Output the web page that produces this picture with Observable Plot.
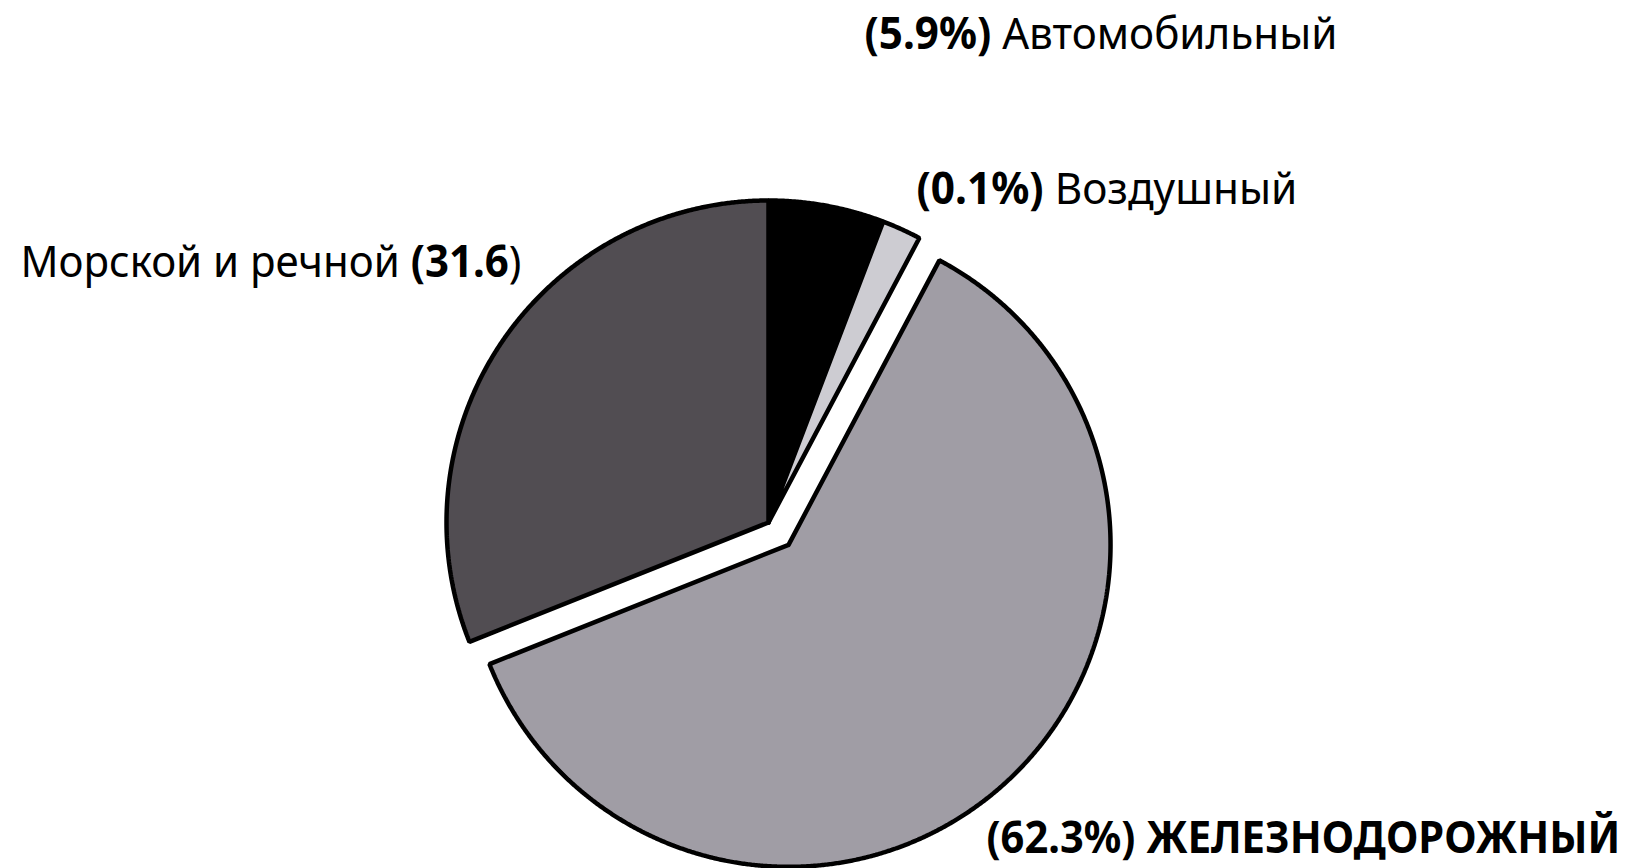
<!DOCTYPE html>
<html>
<head>
<meta charset="utf-8">
<script src="https://cdn.jsdelivr.net/npm/d3@7"></script>
<script src="https://cdn.jsdelivr.net/npm/@observablehq/plot@0.6"></script>
<style>
  html, body { margin: 0; padding: 0; background: #fff; }
  #chart svg { display: block; }
</style>
</head>
<body>
<div id="chart"></div>
<script>
// ---- data ----
const categories = ["Автомобильный", "Воздушный", "Железнодорожный", "Морской и речной"];
const percents = [5.9, 0.1, 62.3, 31.6];           // labelled values
const drawnShares = [5.9, 2.0, 62.3, 31.6];         // slice sizes as drawn in the picture
const exploded = ["Железнодорожный"];

// ---- layout / style ----
const W = 1629, H = 868;
const cx = 768, cy = 522, R = 322, explodeBy = 30;
const colors = ["#000000", "#cdccd2", "#a09da5", "#514d52"];
const labelLayout = {
  "Автомобильный":    {x: 864, y: 48,  w: 473, size: 44},
  "Воздушный":        {x: 916, y: 203, w: 381, size: 44},
  "Морской и речной": {x: 20,  y: 276, w: 501, size: 44},
  "Железнодорожный":  {x: 986, y: 852, w: 634, size: 44}
};

// ---- geometry through d3.pie ----
const pie = d3.pie().sort(null).value(d => d.share).startAngle(0).endAngle(2 * Math.PI);
const arcs = pie(categories.map((c, i) => ({name: c, share: drawnShares[i]})));
const pts = [];
arcs.forEach(a => {
  const name = a.data.name;
  const mid = (a.startAngle + a.endAngle) / 2;
  const off = exploded.includes(name) ? explodeBy : 0;
  const ox = cx + off * Math.sin(mid), oy = cy - off * Math.cos(mid);
  pts.push({name, x: ox, y: oy});
  const n = Math.max(2, Math.ceil((a.endAngle - a.startAngle) / (Math.PI / 720)));
  for (let k = 0; k <= n; k++) {
    const t = a.startAngle + (a.endAngle - a.startAngle) * k / n;
    pts.push({name, x: ox + R * Math.sin(t), y: oy - R * Math.cos(t)});
  }
  pts.push({name, x: ox, y: oy});
});

// ---- labels ----
function labelParts(name, pct) {
  if (name === "Морской и речной") return [[name + " ", 400], ["(" + pct, 700], [")", 400]];
  if (name === "Железнодорожный") return [["(" + pct + "%) ", 700], [name.toUpperCase(), 700]];
  return [["(" + pct + "%) ", 700], [name, 400]];
}
const labels = categories.map((c, i) => {
  const L = labelLayout[c];
  const parts = labelParts(c, percents[i]);
  return {name: c, x: L.x, y: L.y, w: L.w, size: L.size, parts, text: parts.map(p => p[0]).join("")};
});

const svg = Plot.plot({
  width: W, height: H,
  margin: 0,
  x: {domain: [0, W], range: [0, W], axis: null},
  y: {domain: [0, H], range: [0, H], axis: null},
  color: {domain: categories, range: colors},
  style: {background: "#fff", fontFamily: "'Noto Sans', sans-serif"},
  marks: [
    Plot.line(pts, {x: "x", y: "y", z: "name", fill: "name", stroke: "#000",
      strokeWidth: 4.5, strokeLinejoin: "miter", curve: "linear"}),
    Plot.text(labels, {x: "x", y: "y", text: "text", textAnchor: "start",
      fill: "#000", fontSize: 44, className: "lbl"})
  ]
});

document.getElementById("chart").appendChild(svg);

// rebuild label text with mixed weights, baseline at y, widths matched by horizontal scaling
d3.select(svg).selectAll(".lbl text").each(function(_, i) {
  const L = labels[i];
  const t = d3.select(this);
  t.text(null).attr("x", 0).attr("y", 0).attr("dy", 0).attr("font-size", L.size);
  L.parts.forEach(([s, wgt]) => t.append("tspan").attr("font-weight", wgt).text(s));
  const natural = this.getComputedTextLength();
  const sx = L.w / natural;
  t.attr("transform", `translate(${L.x},${L.y}) scale(${sx},1)`);
});
</script>
</body>
</html>
